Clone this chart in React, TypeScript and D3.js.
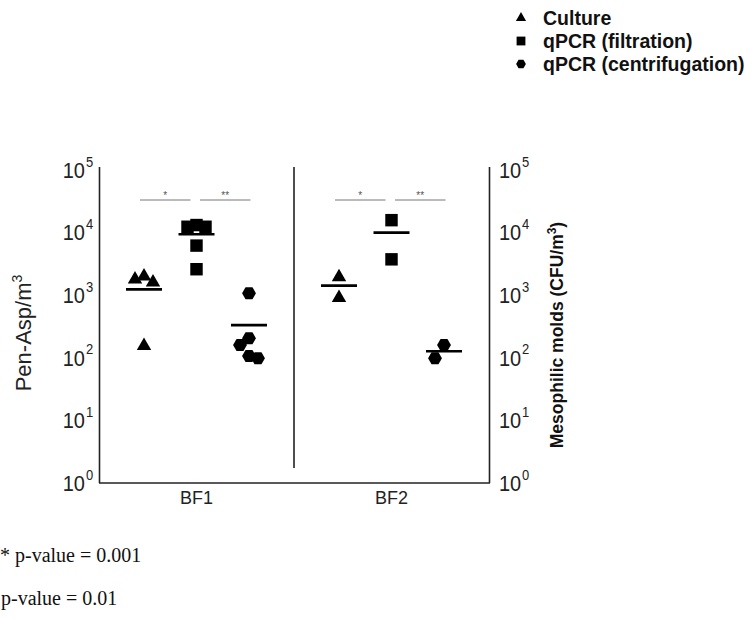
import * as d3 from 'd3';

const groups = ['BF1', 'BF2'];
const methods = ['Culture', 'qPCR (filtration)', 'qPCR (centrifugation)'];

// values (Pen-Asp/m3)
const bf1Culture = [2000, 1800, 1600, 155];
const bf1Filtration = [13200, 12400, 12400, 6200, 2600];
const bf1Centrifugation = [1070, 205, 160, 107, 98];
const bf2Culture = [1940, 910];
const bf2Filtration = [15800, 3740];
const bf2Centrifugation = [160, 98];

// mean bars per group, in method order
const bf1Means = [1240, 9400, 333];
const bf2Means = [1420, 10000, 127];

const yTicks = [1, 10, 100, 1000, 10000, 100000];
const sigLabels = ['*', '**'];
const footnotes = ['* p-value = 0.001', '** p-value = 0.01'];

const series = [
  [bf1Culture, bf1Filtration, bf1Centrifugation],
  [bf2Culture, bf2Filtration, bf2Centrifugation],
];
const means = [bf1Means, bf2Means];

const hexagon = {
  draw(ctx: any, size: number) {
    const r = Math.sqrt((2 * size) / (3 * Math.sqrt(3)));
    for (let i = 0; i < 6; i++) {
      const a = (Math.PI / 3) * i;
      const px = r * Math.cos(a);
      const py = r * Math.sin(a);
      if (i === 0) ctx.moveTo(px, py);
      else ctx.lineTo(px, py);
    }
    ctx.closePath();
  },
};
const symbolTypes = [d3.symbolTriangle, d3.symbolSquare, hexagon];
const symbolSizes = [90, 155, 125];

const font = 'Liberation Sans, Arial, sans-serif';
const serif = 'Liberation Serif, Times New Roman, serif';

const App = () => {
  const x = d3.scaleBand().domain(groups).range([99, 489]);
  const m = d3.scalePoint().domain(methods).range([-52.5, 52.5]);
  const y = d3.scaleLog().domain([1, 100000]).range([483, 170]);

  // simple dodge so overlapping points spread sideways
  const dodge = (vals: number[]) => {
    const order = vals.map((v, i) => i).sort((a, b) => vals[b] - vals[a]);
    const placed: { dx: number; py: number }[] = [];
    const out = new Array(vals.length).fill(0);
    const step = 9;
    const cands = [0, -1, 1, -2, 2, -3, 3];
    order.forEach((i) => {
      const py = y(vals[i]);
      for (const c of cands) {
        const dx = c * step;
        const ok = placed.every((p) => {
          const ax = (dx - p.dx) / step;
          const ay = (py - p.py) / 16;
          return ax * ax + ay * ay >= 0.99;
        });
        if (ok) {
          placed.push({ dx, py });
          out[i] = dx;
          break;
        }
      }
    });
    return out;
  };

  const top = y(100000) - 3;
  const bottom = y(1);

  return (
    <svg
      width={754}
      height={620}
      style={{ position: 'absolute', left: 0, top: 0, display: 'block' }}
    >
      {/* axes */}
      <g stroke="#222" strokeWidth={1.6} fill="none">
        <line x1={99.5} x2={99.5} y1={top} y2={bottom} />
        <line x1={489.5} x2={489.5} y1={top} y2={bottom} />
        <line x1={99} x2={490} y1={bottom} y2={bottom} />
        <line x1={294} x2={294} y1={top} y2={468} />
      </g>

      {/* tick labels, both sides */}
      {yTicks.map((t) => {
        const e = Math.round(Math.log10(t));
        return (
          <g key={t} fontFamily={font} fill="#222">
            <g transform={`translate(0,${y(t)}) scale(1,1.12)`}>
              <text x={85} y={7} fontSize={20} textAnchor="end">10</text>
              <text x={86} y={-3} fontSize={13}>{e}</text>
              <text x={499} y={7} fontSize={20}>10</text>
              <text x={522} y={-3} fontSize={13}>{e}</text>
            </g>
          </g>
        );
      })}

      {/* axis titles */}
      <text
        transform="translate(31,333) rotate(-90)"
        textAnchor="middle"
        fontFamily={font}
        fontSize={22}
        fill="#222"
      >
        Pen-Asp/m<tspan dy={-9} fontSize={14}>3</tspan>
      </text>
      <text
        transform="translate(563,335) rotate(-90)"
        textAnchor="middle"
        fontFamily={font}
        fontSize={17.5}
        fontWeight="bold"
        fill="#111"
      >
        Mesophilic molds (CFU/m<tspan dy={-7} fontSize={12}>3</tspan>
        <tspan dy={7}>)</tspan>
      </text>

      {groups.map((g) => (
        <text
          key={g}
          x={x(g)! + x.bandwidth() / 2}
          y={504}
          textAnchor="middle"
          fontFamily={font}
          fontSize={18}
          fill="#222"
        >
          {g}
        </text>
      ))}

      {/* significance bars */}
      {groups.map((g) => {
        const c = x(g)! + x.bandwidth() / 2;
        const segs = [
          [c + m(methods[0])! - 4, c + m(methods[1])! - 6],
          [c + m(methods[1])! + 3.5, c + m(methods[2])! + 1.5],
        ];
        return segs.map((s, i) => (
          <g key={g + i}>
            <line x1={s[0]} x2={s[1]} y1={200} y2={200} stroke="#777" strokeWidth={1} />
            <text
              x={(s[0] + s[1]) / 2}
              y={199}
              textAnchor="middle"
              fontFamily={font}
              fontSize={10}
              fill="#555"
            >
              {sigLabels[i]}
            </text>
          </g>
        ));
      })}

      {/* points and means */}
      {groups.map((g, gi) => {
        const c = x(g)! + x.bandwidth() / 2;
        return methods.map((meth, mi) => {
          const vals = series[gi][mi];
          const offs = dodge(vals);
          const cx = c + m(meth)!;
          const sym = d3.symbol().type(symbolTypes[mi] as any).size(symbolSizes[mi]);
          return (
            <g key={g + meth}>
              {vals.map((v, i) => (
                <path
                  key={i}
                  d={sym()!}
                  transform={`translate(${cx + offs[i]},${y(v)})`}
                  fill="#000"
                />
              ))}
              <line
                x1={cx - 18}
                x2={cx + 18}
                y1={y(means[gi][mi])}
                y2={y(means[gi][mi])}
                stroke="#000"
                strokeWidth={2.6}
              />
            </g>
          );
        });
      })}

      {/* legend */}
      {methods.map((meth, i) => {
        const ly = 18 + i * 23;
        const sym = d3.symbol().type(symbolTypes[i] as any).size(symbolSizes[i] * 0.5);
        return (
          <g key={meth}>
            <path d={sym()!} transform={`translate(521,${ly})`} fill="#000" />
            <text
              x={543}
              y={ly + 7}
              fontFamily={font}
              fontSize={19.5}
              fontWeight="bold"
              fill="#111"
            >
              {meth}
            </text>
          </g>
        );
      })}

      {/* footnotes */}
      <text x={0} y={562} fontFamily={serif} fontSize={20} fill="#111">
        {footnotes[0]}
      </text>
      <text x={-24} y={605} fontFamily={serif} fontSize={20} fill="#111">
        {footnotes[1]}
      </text>
    </svg>
  );
};

export default App;
